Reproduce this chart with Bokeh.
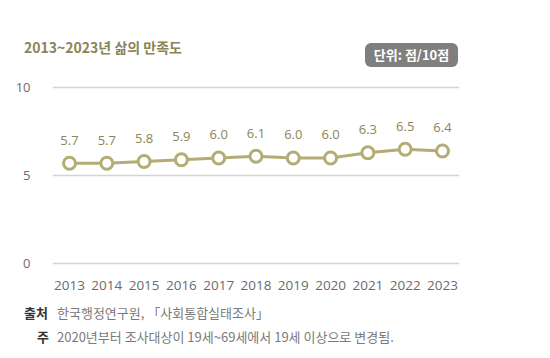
from bokeh.plotting import figure
from bokeh.models import ColumnDataSource, Range1d, FixedTicker, Div
from bokeh.layouts import column
from bokeh.core.properties import value
from bokeh.embed import file_html
from bokeh.resources import INLINE

# ---- data ----
years = [2013, 2014, 2015, 2016, 2017, 2018, 2019, 2020, 2021, 2022, 2023]
satisfaction = [5.7, 5.7, 5.8, 5.9, 6.0, 6.1, 6.0, 6.0, 6.3, 6.5, 6.4]
value_labels = ["5.7", "5.7", "5.8", "5.9", "6.0", "6.1", "6.0", "6.0", "6.3", "6.5", "6.4"]
y_ticks = [0, 5, 10]
title_text = "2013~2023년 삶의 만족도"
unit_text = "단위: 점/10점"
source_head = "출처"
source_text = "한국행정연구원, 「사회통합실태조사」"
note_head = "주"
note_text = "2020년부터 조사대상이 19세~69세에서 19세 이상으로 변경됨."

LINE = "#b3ad75"
LABEL = "#8a8458"
KR = "'Noto Sans CJK KR', 'Noto Sans', sans-serif"

header = Div(width=542, height=70, margin=0, text=f"""
<div style="position:relative;width:542px;height:70px;font-family:{KR};">
  <div style="position:absolute;left:24px;top:37px;font-size:14px;line-height:20px;font-weight:700;color:#8b8456;white-space:nowrap;">{title_text}</div>
  <div style="position:absolute;left:365px;top:43px;width:93px;height:24px;line-height:24px;background:#7f7f7f;border-radius:6px;color:#ffffff;font-size:13px;font-weight:700;text-align:center;white-space:nowrap;">{unit_text}</div>
</div>""")

src = ColumnDataSource(dict(x=years, y=satisfaction, label=value_labels))

p = figure(width=542, height=227, x_range=Range1d(2012.544, 2023.456),
           y_range=Range1d(-0.25, 10.25), output_backend="svg",
           toolbar_location=None, min_border_left=52, min_border_right=83,
           min_border_top=13, min_border_bottom=30)
p.outline_line_color = None
p.background_fill_color = "white"
p.border_fill_color = "white"
p.xgrid.grid_line_color = None
p.ygrid.ticker = FixedTicker(ticks=y_ticks)
p.ygrid.grid_line_color = "#d4d4d4"
p.ygrid.grid_line_width = 1.5

p.yaxis.ticker = FixedTicker(ticks=y_ticks)
p.xaxis.ticker = FixedTicker(ticks=years)
for ax in (p.xaxis, p.yaxis):
    ax.axis_line_color = None
    ax.major_tick_line_color = None
    ax.minor_tick_line_color = None
    ax.major_label_text_font = "Open Sans"
    ax.major_label_text_color = "#6b6b6b"
p.xaxis.major_label_text_font_size = "13.5px"
p.yaxis.major_label_text_font_size = "13px"
p.xaxis.major_label_standoff = 7
p.yaxis.major_label_standoff = 16

p.line("x", "y", source=src, line_color=LINE, line_width=3)
p.scatter("x", "y", source=src, size=12, fill_color="white", line_color=LINE, line_width=3)
p.text("x", "y", text="label", source=src, text_align="center", text_baseline="middle",
       y_offset=-23, text_font=value("Open Sans"), text_font_size="13px", text_color=LABEL)

footer = Div(width=542, height=56, margin=0, text=f"""
<div style="position:relative;width:542px;height:56px;font-family:{KR};font-size:13px;line-height:18px;white-space:nowrap;">
  <div style="position:absolute;left:24px;top:7px;font-weight:700;color:#333333;">{source_head}</div>
  <div style="position:absolute;left:57px;top:7px;color:#7a7a7a;">{source_text}</div>
  <div style="position:absolute;left:37px;top:31px;font-weight:700;color:#333333;">{note_head}</div>
  <div style="position:absolute;left:57px;top:31px;color:#7a7a7a;">{note_text}</div>
</div>""")

layout = column(header, p, footer, spacing=0)
open("out.html", "w").write(file_html(layout, INLINE))
